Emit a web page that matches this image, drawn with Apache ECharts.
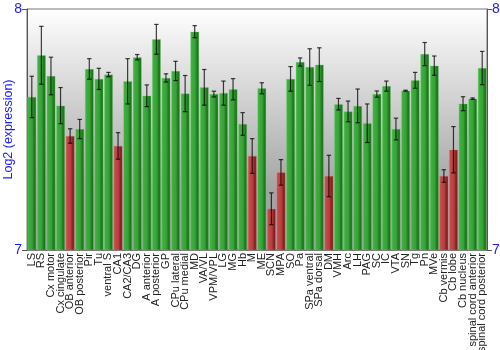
<!DOCTYPE html>
<html><head><meta charset="utf-8">
<script src="https://cdn.jsdelivr.net/npm/echarts@6/dist/echarts.min.js"></script>
<style>html,body{margin:0;padding:0;background:#fff}#c{width:500px;height:350px}</style>
</head><body><div id="c"></div>
<script>
var categories = ['LS','RS','Cx motor','Cx cingulate','OB anterior','OB posterior','Pir','Tu','ventral S','CA1','CA2/CA3','DG','A anterior','A posterior','GP','CPu lateral','CPu medial','MD','VA/VL','VPM/VPL','LG','MG','Hb','M','ME','SCN','MPA','SO','Pa','SPa ventral','SPa dorsal','DM','VMH','Arc','LH','PAG','SC','IC','VTA','SN','Tg','Pn','MVe','Cb vermis','Cb lobe','Cb nucleus','spinal cord anterior','spinal cord posterior'];
var values = [7.635,7.808,7.722,7.599,7.473,7.502,7.751,7.710,7.728,7.432,7.700,7.800,7.640,7.874,7.714,7.743,7.649,7.906,7.675,7.647,7.651,7.667,7.523,7.390,7.671,7.171,7.322,7.710,7.780,7.759,7.769,7.307,7.605,7.575,7.598,7.526,7.647,7.680,7.502,7.661,7.704,7.813,7.765,7.307,7.416,7.607,7.628,7.755];
var errors = [0.086,0.120,0.078,0.075,0.030,0.040,0.043,0.044,0.009,0.055,0.094,0.011,0.045,0.062,0.017,0.040,0.075,0.025,0.074,0.012,0.050,0.044,0.047,0.072,0.023,0.066,0.053,0.051,0.017,0.076,0.070,0.086,0.024,0.043,0.070,0.080,0.013,0.021,0.045,0.002,0.033,0.048,0.040,0.026,0.096,0.029,0.003,0.069];
var redCategories = ['OB anterior','CA1','M','SCN','MPA','DM','Cb vermis','Cb lobe'];
var yTicks = [7, 8];

var G = echarts.graphic.LinearGradient;
var greenFill = new G(0,0,1,0,[{offset:0,color:'#5cc85c'},{offset:0.12,color:'#40b040'},{offset:0.55,color:'#35a235'},{offset:0.75,color:'#207f20'},{offset:1,color:'#1a6c1a'}]);
var redFill = new G(0,0,1,0,[{offset:0,color:'#d86464'},{offset:0.12,color:'#c84a4a'},{offset:0.55,color:'#b83e3e'},{offset:0.75,color:'#902525'},{offset:1,color:'#7a1c1c'}]);

var barData = values.map(function(v,i){
  var red = redCategories.indexOf(categories[i]) >= 0;
  return {value: v, itemStyle: {color: red ? redFill : greenFill, borderColor: red ? 'rgba(220,120,120,0.6)' : 'rgba(120,210,120,0.6)', borderWidth: 0.5}};
});
var errData = values.map(function(v,i){ return [i, v - errors[i], v + errors[i]]; });

var chart = echarts.init(document.getElementById('c'), null, {renderer:'canvas'});
var axisCommon = {
  type:'value', min: yTicks[0], max: yTicks[1], interval: 1,
  axisLine:{show:true, lineStyle:{color:'#555'}},
  axisTick:{show:true, length:5, lineStyle:{color:'#555'}},
  splitLine:{show:false},
  axisLabel:{color:'#1a1aff', fontSize:14, fontFamily:'Liberation Sans, Arial', margin:5}
};
chart.setOption({
  animation:false,
  grid:{left:27, right:13, top:9, bottom:100, outerBoundsMode:'none', containLabel:false, show:true, borderColor:'#777', borderWidth:1,
    backgroundColor: new G(0,0,0,1,[{offset:0,color:'#ffffff'},{offset:0.75,color:'#a4a4a4'},{offset:1,color:'#9e9e9e'}])},
  xAxis:{type:'category', data:categories,
    axisLine:{show:true, lineStyle:{color:'#777'}}, axisTick:{show:false},
    axisLabel:{interval:0, rotate:90, fontSize:11, color:'#222', fontFamily:'Liberation Sans, Arial', margin:3}},
  yAxis:[
    Object.assign({}, axisCommon, {position:'left', name:'Log2 (expression)', nameLocation:'middle', nameGap:12, nameMoveOverlap:false,
      nameTextStyle:{color:'#1a1aff', fontSize:12.5, fontFamily:'Liberation Sans, Arial'}}),
    Object.assign({}, axisCommon, {position:'right'})
  ],
  series:[
    {type:'bar', data:barData, barCategoryGap:'9%', yAxisIndex:0},
    {type:'custom', yAxisIndex:0, data:errData, z:10,
     renderItem:function(params, api){
       var x = api.value(0);
       var lo = api.coord([x, api.value(1)]);
       var hi = api.coord([x, api.value(2)]);
       var w = 2.2;
       var st = {stroke:'rgba(0,0,0,0.75)', lineWidth:1.2};
       return {type:'group', children:[
         {type:'line', shape:{x1:lo[0],y1:lo[1],x2:hi[0],y2:hi[1]}, style:st},
         {type:'line', shape:{x1:lo[0]-w,y1:lo[1],x2:lo[0]+w,y2:lo[1]}, style:st},
         {type:'line', shape:{x1:hi[0]-w,y1:hi[1],x2:hi[0]+w,y2:hi[1]}, style:st}
       ]};
     }}
  ]
});
</script></body></html>
